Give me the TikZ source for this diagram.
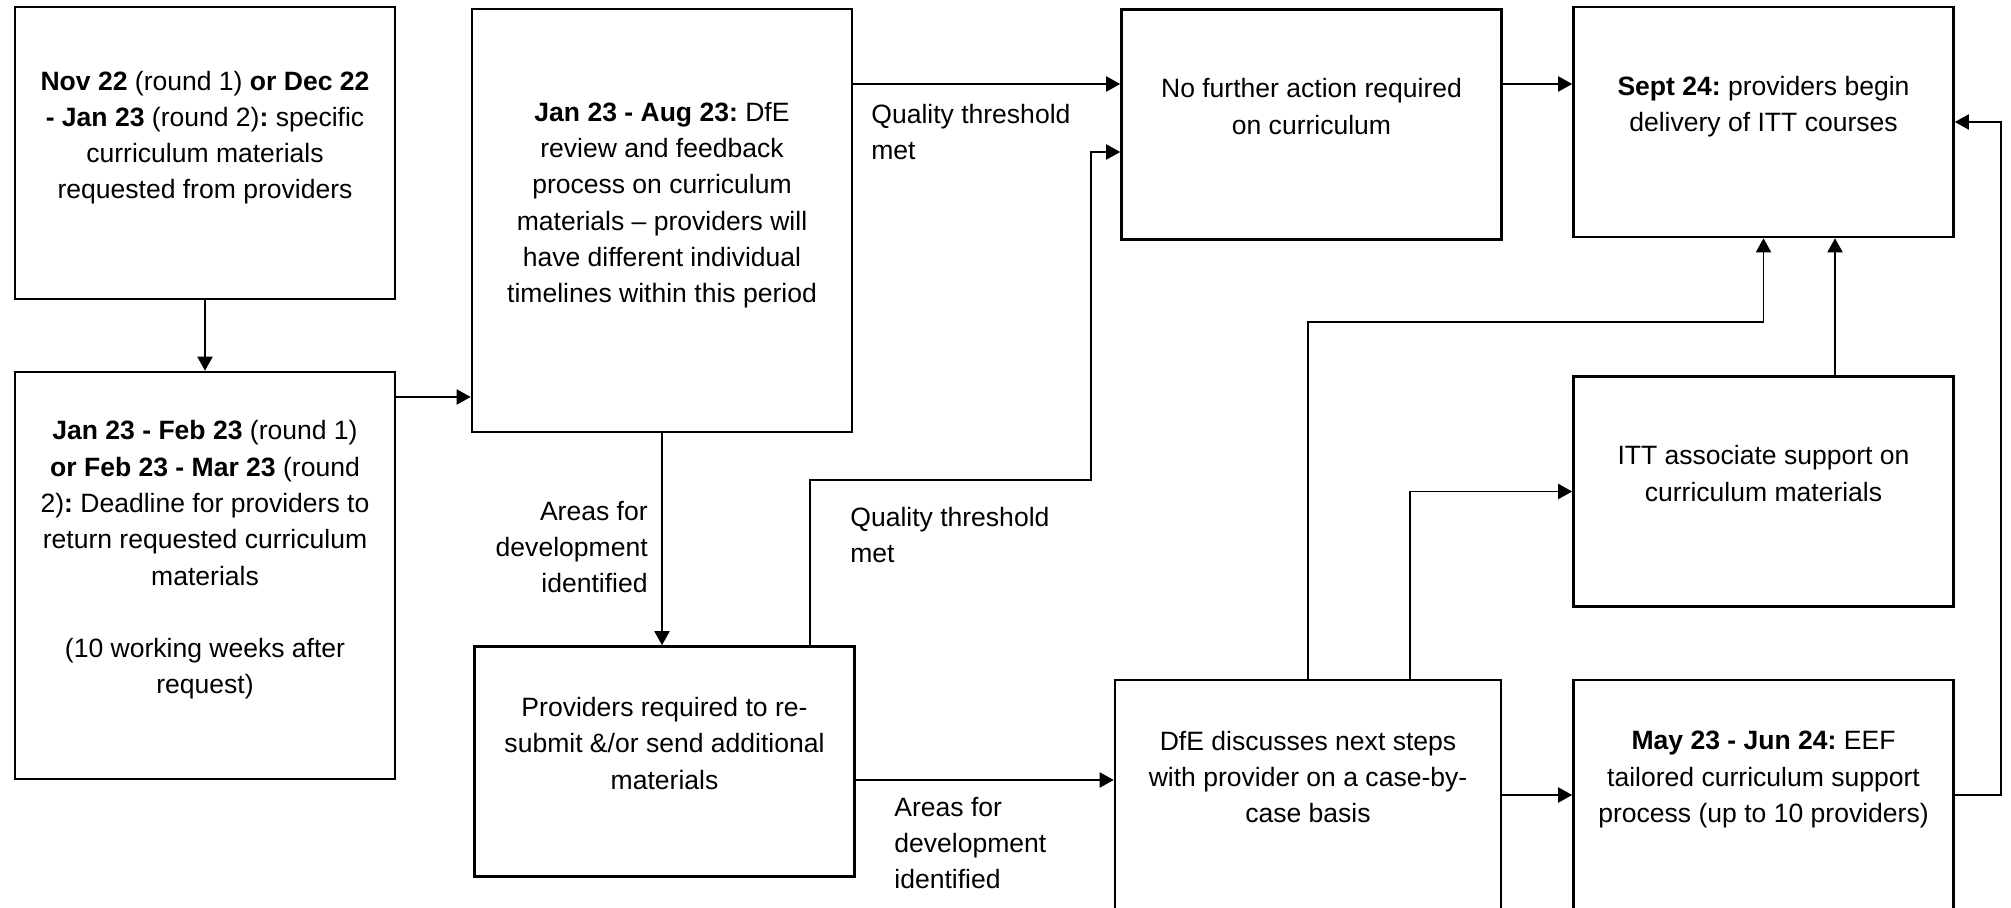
\documentclass[tikz,border=0pt]{standalone}
\usepackage{fontspec}
\setmainfont{Liberation Sans}
\frenchspacing
\usetikzlibrary{
    arrows.meta,
    calc,
    positioning
}

\begin{document}
\begin{tikzpicture}[x=0.02cm, y=-0.02cm,
    font=\fontsize{15.1}{20.65}\selectfont,
    box/.style={draw, line width=1.5pt, align=center, inner sep=0pt,
        minimum width=7.6cm, minimum height=4.6cm},
    flow/.style={line width=1.1pt, -{Triangle[length=0.28cm, width=0.3cm]}},
    note/.style={align=left, inner sep=0pt}]
    \useasboundingbox (0,0) rectangle (2011,908);

    % boxes
    \node[box, minimum height=5.84cm] (req) at (205,153) {\textbf{Nov 22} (round 1) \textbf{or Dec 22}\\\textbf{- Jan 23} (round 2)\textbf{:} specific\\curriculum materials\\requested from providers\\~};
    \node[box, minimum height=8.14cm] (ret) at (205,575.5) {\textbf{Jan 23 - Feb 23} (round 1)\\\textbf{or Feb 23 - Mar 23} (round\\2)\textbf{:} Deadline for providers to\\return requested curriculum\\materials\\~\\(10 working weeks after\\request)\\~};
    \node[box, minimum height=8.46cm] (rev) at (662,220.5) {\textbf{Jan 23 - Aug 23:} DfE\\review and feedback\\process on curriculum\\materials \textendash{} providers will\\have different individual\\timelines within this period\\~};
    \node[box] (nfa) at (1311.5,124.5) {No further action required\\on curriculum\\~};
    \node[box] (sep) at (1763.5,122) {\textbf{Sept 24:} providers begin\\delivery of ITT courses\\~};
    \node[box] (res) at (664.5,761.5) {Providers required to re-\\submit \&/or send additional\\materials\\~};
    \node[box, minimum width=7.72cm] (dis) at (1308,795) {DfE discusses next steps\\with provider on a case-by-\\case basis\\~};
    \node[box] (eef) at (1763.5,795) {\textbf{May 23 - Jun 24:} EEF\\tailored curriculum support\\process (up to 10 providers)\\~};
    \node[box] (itt) at (1763.5,491.5) {ITT associate support on\\curriculum materials\\~};

    % labels
    \node[note, anchor=west] (qt1) at (871,132) {Quality threshold\\met};
    \node[note, anchor=west] (qt2) at (850,535) {Quality threshold\\met};
    \node[note, align=right, anchor=east] (ad1) at (648,547) {Areas for\\development\\identified};
    \node[note, anchor=west] (ad2) at (894,843) {Areas for\\development\\identified};

    % routing points
    \coordinate (r1) at (0,84);
    \coordinate (r2) at (0,397);
    \coordinate (r3) at (0,780);
    \coordinate (q1) at (810,480);
    \coordinate (q2) at (1091,152);
    \coordinate (m1) at (0,322);
    \coordinate (g2) at (1410,0);
    \coordinate (e2) at (1835,0);
    \coordinate (rr) at (2001,0);

    \draw[flow] (req) -- (ret);
    \draw[flow] (ret.east |- r2) -- (rev.west |- r2);
    \draw[flow] (rev.east |- r1) -- (nfa.west |- r1);
    \draw[flow] (nfa.east |- r1) -- (sep.west |- r1);
    \draw[flow] (rev.south) -- (rev.south |- res.north);
    \draw[flow] (res.north -| q1) -- (q1) -| (q2) -- (nfa.west |- q2);
    \draw[flow] (res.east |- r3) -- (dis.west |- r3);
    \draw[flow] (dis) -- (eef);
    \draw[flow] (eef.east) -- (eef.east -| rr) |- (sep.east);
    \draw[flow] (dis.north) -- (dis.north |- m1) -| (sep.south);
    \draw[flow] (dis.north -| g2) |- (itt.west);
    \draw[flow] (itt.north -| e2) -- (sep.south -| e2);
\end{tikzpicture}
\end{document}
